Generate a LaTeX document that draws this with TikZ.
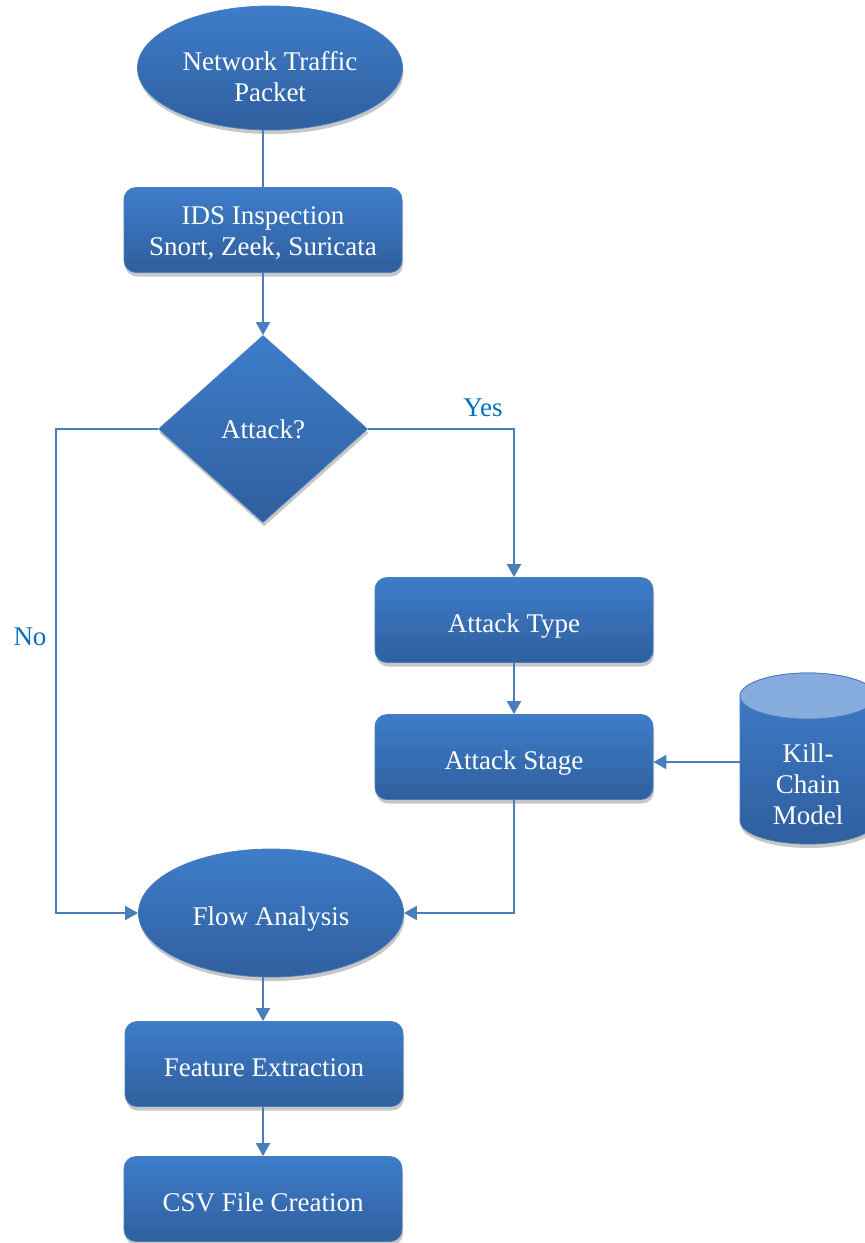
\documentclass[tikz,border=0pt]{standalone}
\usepackage{fontspec}
\setmainfont{Liberation Serif}
\usetikzlibrary{shapes.geometric,arrows.meta,shadows}
\definecolor{fillTop}{HTML}{3E7DCA}
\definecolor{fillBot}{HTML}{2F5F9E}
\definecolor{edgeC}{HTML}{4A7EBB}
\definecolor{labC}{HTML}{0070C0}
\definecolor{capC}{HTML}{85ACDC}
\tikzset{
  shadefill/.style={top color=fillTop, bottom color=fillBot, draw=edgeC, line width=0.8pt,
    drop shadow={shadow xshift=1pt, shadow yshift=-4pt, opacity=0.22, fill=black}},
  txt/.style={text=white, font=\fontsize{27}{31}\selectfont, align=center},
  low/.style={text height=30pt, text depth=5pt},
  box/.style={shadefill, txt, rectangle, rounded corners=12pt, minimum width=278pt, minimum height=85pt, inner sep=0pt},
  oval/.style={shadefill, txt, ellipse, minimum width=265pt, minimum height=124pt, inner sep=0pt},
  decision/.style={shadefill, txt, diamond, minimum width=209pt, minimum height=187pt, inner sep=0pt},
  conn/.style={draw=edgeC, line width=2pt, -{Triangle[width=14pt,length=13pt]}},
  plain/.style={draw=edgeC, line width=2pt},
  lbl/.style={text=labC, font=\fontsize{27}{31}\selectfont}
}
\begin{document}
\begin{tikzpicture}[x=1pt,y=-1pt]
\clip (0,0) rectangle (865,1243);
% nodes
\node[oval] (ntp) at (270,68) {};
\node[txt] (ntpt) at (270,77) {Network Traffic\\Packet};
\node[box] (ids) at (263,230) {};
\node[txt] (idst) at (263,233) {IDS Inspection\\Snort, Zeek, Suricata};
\node[decision] (dec) at (263,429) {Attack?};
\node[box, low] (atype) at (514,620) {Attack Type};
\node[box, low] (astage) at (514,757) {Attack Stage};
\node[oval, minimum height=128pt] (flow) at (271,913) {};
\node[txt] (flowt) at (271,919) {Flow Analysis};
\node[box, low] (feat) at (264,1064) {Feature Extraction};
\node[box, low] (csv) at (263,1199) {CSV File Creation};
% cylinder
\path[top color=fillTop, bottom color=fillBot, draw=edgeC, line width=0.8pt,
  drop shadow={shadow xshift=1pt, shadow yshift=-4pt, opacity=0.22, fill=black}]
  (740,696) -- (740,821) arc[start angle=180, end angle=360, x radius=68pt, y radius=23pt]
  -- (876,696) arc[start angle=0, end angle=180, x radius=68pt, y radius=23pt] -- cycle;
\path[fill=capC, draw=edgeC, line width=0.8pt] (808,696) ellipse [x radius=68pt, y radius=23pt];
\node[txt] (kc) at (808,784) {Kill-\\Chain\\Model};
\coordinate (kcw) at (740,762);
% labels
\node[lbl] (yes) at (483,408) {Yes};
\node[lbl] (no) at (30,637) {No};
% connectors
\draw[plain] (ids.north) -- (ids.north |- ntp.south);
\draw[conn] (ids.south) -- (dec.north);
\coordinate (nocorner) at (56,429);
\draw[conn] (dec.west) -- (nocorner) |- (flow.west);
\draw[conn] (dec.east) -| (atype.north);
\draw[conn] (atype.south) -- (astage.north);
\draw[conn] (kcw) -- (astage.east |- kcw);
\draw[conn] (astage.south) |- (flow.east);
\draw[conn] (flow.south -| csv.north) -- (feat.north -| csv.north);
\draw[conn] (feat.south -| csv.north) -- (csv.north);
\end{tikzpicture}
\end{document}
